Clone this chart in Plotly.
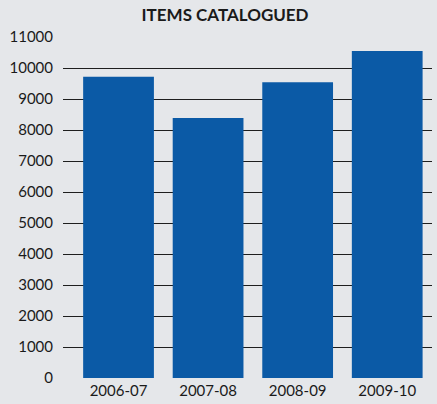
import plotly.graph_objects as go

categories = ["2006-07", "2007-08", "2008-09", "2009-10"]
values = [9720, 8390, 9540, 10550]
y_ticks = [0, 1000, 2000, 3000, 4000, 5000, 6000, 7000, 8000, 9000, 10000, 11000]
title = "ITEMS CATALOGUED"

bg = "#e5e7ea"
fig = go.Figure(go.Bar(x=categories, y=values, marker=dict(color="#0b5aa6", line=dict(width=0))))

fig.update_layout(
    width=437, height=404,
    margin=dict(l=63, r=5, t=37, b=23),
    paper_bgcolor=bg, plot_bgcolor=bg,
    bargap=0.21,
    showlegend=False,
    title=dict(text="<b>" + title + "</b>", x=0.515, xanchor="center", y=0.962, yanchor="middle",
               font=dict(family="Lato", size=17, color="#1a1a1a")),
    font=dict(family="Lato", size=15, color="#1a1a1a"),
)
fig.update_xaxes(
    type="category", range=[-0.62, 3.5],
    showgrid=False, showline=False, zeroline=False, ticks="",
    ticklabelstandoff=2,
    tickfont=dict(size=15),
)
fig.update_yaxes(
    range=[0, 11000], tickvals=y_ticks, ticktext=[str(v) for v in y_ticks],
    showgrid=True, gridcolor="#1e1e1e", gridwidth=1.4,
    zeroline=False, showline=False, ticks="",
    ticklabelstandoff=9,
    tickfont=dict(size=15),
)
fig.write_html("out.html", config={"displayModeBar": False},
               post_script="document.body.style.margin='0';document.body.style.background='%s';" % bg)
